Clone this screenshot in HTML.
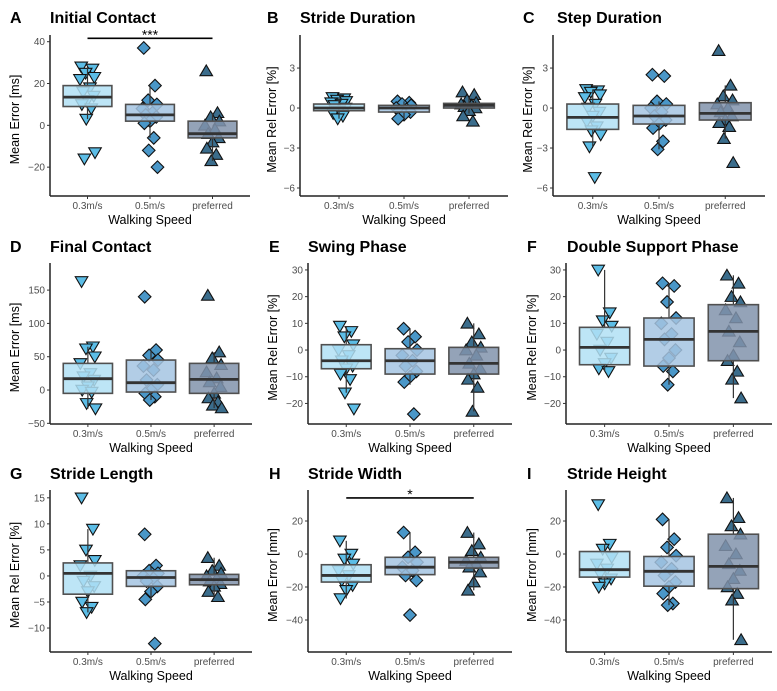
<!DOCTYPE html>
<html><head><meta charset="utf-8"><style>
body{margin:0;background:#fff}
svg{display:block;font-family:"Liberation Sans",sans-serif}
</style></head><body>
<svg id="fig" width="777" height="691" viewBox="0 0 777 691"></svg>
<script>
const categories=["0.3m/s","0.5m/s","preferred"];
// panel A
const aV03=[28,27,25,23,22,18,16,14,12,10,8,3,-13,-16];
const aV05=[37,19,12,10,8,6,5,4,2,1,-6,-12,-20];
const aVpr=[26,6,4,2,0,-2,-4,-6,-8,-11,-14,-17];
const aBox=[[3,9,13.5,19,28],[-6,2,5,10,19],[-17,-6,-4,2,6]];
const aTicks=[-20,0,20,40];
// panel B
const bV03=[0.8,0.7,0.6,0.5,0.4,0.3,0.2,0,-0.2,-0.4,-0.6,-0.8];
const bV05=[0.5,0.4,0.3,0.2,0,-0.1,-0.2,-0.3,-0.5,-0.8];
const bVpr=[1.2,1.0,0.6,0.4,0.3,0.2,0.1,0,-0.2,-0.6,-1.0];
const bBox=[[-0.8,-0.2,0,0.3,0.8],[-0.8,-0.3,0,0.2,0.5],[-0.4,0,0.2,0.35,0.8]];
const bTicks=[-6,-3,0,3];
// panel C
const cV03=[1.4,1.3,1.2,1.0,0.8,0.3,0,-0.3,-0.6,-1,-1.4,-1.7,-2.0,-2.9,-5.2];
const cV05=[2.5,2.4,0.5,0.3,0,-0.3,-0.6,-0.9,-1.2,-1.5,-2.5,-3.1];
const cVpr=[4.3,1.7,0.9,0.6,0.3,0,-0.3,-0.6,-0.9,-1.1,-1.4,-2.3,-4.1];
const cBox=[[-2.9,-1.6,-0.7,0.3,1.4],[-3.1,-1.2,-0.6,0.2,0.5],[-2.3,-0.9,-0.4,0.4,1.7]];
const cTicks=[-6,-3,0,3];
// panel D
const dV03=[163,65,62,50,40,25,20,15,5,0,-3,-20,-28];
const dV05=[140,60,52,45,36,30,15,8,0,-5,-10,-15];
const dVpr=[142,57,48,38,27,18,12,5,-5,-12,-18,-23,-27];
const dBox=[[-28,-5,17,40,65],[-15,-3,11,45,60],[-27,-5,16,40,57]];
const dTicks=[-50,0,50,100,150];
// panel E
const eV03=[9,7,5,2,0,-2,-4,-6,-7,-9,-11,-16,-22];
const eV05=[8,5,3,0,-2,-4,-6,-8,-10,-12,-24];
const eVpr=[10,6,3,1,0,-2,-5,-7,-9,-11,-14,-23];
const eBox=[[-16,-7,-4,2,9],[-13,-9,-4,0.5,8],[-23,-9,-5,1,10]];
const eTicks=[-20,-10,0,10,20,30];
// panel F
const fV03=[30,14,11,9,6,3,0,-3,-5,-7,-8];
const fV05=[25,24,18,12,10,6,4,0,-3,-6,-8,-13];
const fVpr=[28,25,20,18,15,12,7,3,-2,-4,-8,-11,-18];
const fBox=[[-8,-5.5,1,8.5,30],[-13,-6,4,12,25],[-18,-4,7,17,28]];
const fTicks=[-20,-10,0,10,20,30];
// panel G
const gV03=[15,9,5,3,2,0,-1,-2,-3,-5,-6,-7];
const gV05=[8,2,1,0.5,0,-0.5,-1,-2,-3,-4.5,-13];
const gVpr=[3.5,2,1,0.5,0,-0.5,-1,-1.5,-2,-3,-4];
const gBox=[[-7,-3.5,0.5,2.5,9],[-4.5,-2,-0.3,1,2],[-4,-1.7,-0.7,0.3,3.5]];
const gTicks=[-10,-5,0,5,10,15];
// panel H
const hV03=[8,0,-3,-6,-10,-13,-16,-19,-22,-27];
const hV05=[13,1,-2,-5,-8,-10,-13,-16,-37];
const hVpr=[13,6,2,-2,-4,-6,-8,-11,-17,-22];
const hBox=[[-27,-17,-13,-6.5,8],[-16,-12.5,-8,-2,13],[-22,-8.5,-5,-2,13]];
const hTicks=[-40,-20,0,20];
// panel I
const iV03=[30,6,3,-2,-6,-9,-12,-15,-18,-20];
const iV05=[21,9,4,-1,-5,-9,-13,-17,-20,-24,-30,-31];
const iVpr=[34,22,17,12,5,0,-6,-10,-15,-20,-24,-28,-52];
const iBox=[[-20,-14,-9.5,1.5,6],[-31,-19.5,-10.5,-1.5,21],[-52,-21,-7.5,12,34]];
const iTicks=[-40,-20,0,20];

const NS="http://www.w3.org/2000/svg";
const svg=document.getElementById("fig");
function mk(tag,attrs,parent,text){const e=document.createElementNS(NS,tag);for(const k in attrs)e.setAttribute(k,attrs[k]);if(text!==undefined)e.textContent=text;(parent||svg).appendChild(e);return e;}
const ptCol=["#5cbde6","#4a97c8","#3b6d8c"];
const boxCol=["#b2e0f4","#a4c4e2","#8193ab"];
const jit=[-0.1,0.08,-0.03,0.11,-0.12,0.04,-0.07,0.1,0.0,-0.09,0.06,-0.02,0.12,-0.05,0.03];
const panels=[
 {L:"A",t:"Initial Contact",yl:"Mean Error [ms]",x0:50,x1:250,top:35,bot:196,lo:-33.8,hi:43.2,v:[aV03,aV05,aVpr],b:aBox,tk:aTicks,lx:10,tx:50,ty:23,ax:15,sig:[41.6,"***"]},
 {L:"B",t:"Stride Duration",yl:"Mean Rel Error [%]",x0:300,x1:508,top:35,bot:196,lo:-6.6,hi:5.48,v:[bV03,bV05,bVpr],b:bBox,tk:bTicks,lx:267,tx:300,ty:23,ax:272},
 {L:"C",t:"Step Duration",yl:"Mean Rel Error [%]",x0:553,x1:765,top:35,bot:196,lo:-6.6,hi:5.48,v:[cV03,cV05,cVpr],b:cBox,tk:cTicks,lx:523,tx:557,ty:23,ax:528},
 {L:"D",t:"Final Contact",yl:"Mean Error [ms]",x0:50,x1:252,top:263,bot:424,lo:-51,hi:190.7,v:[dV03,dV05,dVpr],b:dBox,tk:dTicks,lx:10,tx:50,ty:252,ax:15},
 {L:"E",t:"Swing Phase",yl:"Mean Rel Error [%]",x0:308,x1:512,top:263,bot:424,lo:-27.7,hi:32.6,v:[eV03,eV05,eVpr],b:eBox,tk:eTicks,lx:269,tx:308,ty:252,ax:273},
 {L:"F",t:"Double Support Phase",yl:"Mean Rel Error [%]",x0:566,x1:772,top:263,bot:424,lo:-27.7,hi:32.6,v:[fV03,fV05,fVpr],b:fBox,tk:fTicks,lx:527,tx:567,ty:252,ax:532},
 {L:"G",t:"Stride Length",yl:"Mean Rel Error [%]",x0:50,x1:252,top:490,bot:652,lo:-14.6,hi:16.5,v:[gV03,gV05,gVpr],b:gBox,tk:gTicks,lx:10,tx:50,ty:479,ax:15},
 {L:"H",t:"Stride Width",yl:"Mean Error [mm]",x0:308,x1:512,top:490,bot:652,lo:-59.4,hi:38.8,v:[hV03,hV05,hVpr],b:hBox,tk:hTicks,lx:269,tx:308,ty:479,ax:273,sig:[34,"*"]},
 {L:"I",t:"Stride Height",yl:"Mean Error [mm]",x0:566,x1:772,top:490,bot:652,lo:-59.4,hi:38.8,v:[iV03,iV05,iVpr],b:iBox,tk:iTicks,lx:527,tx:567,ty:479,ax:532}
];
function shape(kind,cx,cy,g,col){
  const s=6.3;let p;
  if(kind===0)p=[[cx-s,cy-s*0.75],[cx+s,cy-s*0.75],[cx,cy+s*0.95]];
  else if(kind===1)p=[[cx,cy-s],[cx+s,cy],[cx,cy+s],[cx-s,cy]];
  else p=[[cx-s,cy+s*0.75],[cx+s,cy+s*0.75],[cx,cy-s*0.95]];
  return mk("polygon",{points:p.map(q=>q.join(",")).join(" "),fill:col,stroke:"#111","stroke-width":1.1},g);
}
panels.forEach((P,pi)=>{
  const g=mk("g",{});
  
  
  const unit=(P.x1-P.x0)/3.2;
  const xs=i=>P.x0+unit*(0.6+i);
  const ys=v=>P.bot-(v-P.lo)/(P.hi-P.lo)*(P.bot-P.top);
  const lt=mk("text",{x:P.lx,y:P.ty,"font-size":16,"font-weight":"bold",fill:"#000"},g,P.L);
  
  
  const tt=mk("text",{x:P.tx,y:P.ty,"font-size":16,"font-weight":"bold",fill:"#000"},g,P.t);
  
  
  P.v.forEach((vals,ci)=>{
    vals.forEach((v,k)=>{
      const pt=shape(ci,xs(ci)+jit[k%jit.length]*unit,ys(v),g,ptCol[ci]);
      
      
    });
  });
  P.b.forEach((b,ci)=>{
    const cx=xs(ci),hw=unit*0.39;
    const w1=mk("line",{x1:cx,x2:cx,y1:ys(b[0]),y2:ys(b[1]),stroke:"#333","stroke-width":1.2},g);
    
    
    const w2=mk("line",{x1:cx,x2:cx,y1:ys(b[3]),y2:ys(b[4]),stroke:"#333","stroke-width":1.2},g);
    
    
    const r=mk("rect",{x:cx-hw,y:ys(b[3]),width:hw*2,height:ys(b[1])-ys(b[3]),fill:boxCol[ci],"fill-opacity":0.85,stroke:"#505050","stroke-width":1.6},g);
    
    
    const m=mk("line",{x1:cx-hw,x2:cx+hw,y1:ys(b[2]),y2:ys(b[2]),stroke:"#333","stroke-width":2.8},g);
    
    
  });
  const ya=mk("line",{x1:P.x0,x2:P.x0,y1:P.top,y2:P.bot,stroke:"#222","stroke-width":1.5},g);
  
  
  const xa=mk("line",{x1:P.x0,x2:P.x1,y1:P.bot,y2:P.bot,stroke:"#222","stroke-width":1.5},g);
  
  
  P.tk.forEach(t=>{
    mk("line",{x1:P.x0-3,x2:P.x0,y1:ys(t),y2:ys(t),stroke:"#333","stroke-width":1},g);
    const tl=mk("text",{x:P.x0-5,y:ys(t)+3.5,"font-size":10,fill:"#4d4d4d","text-anchor":"end"},g,t<0?"\u2212"+(-t):String(t));
    
    
  });
  categories.forEach((c,ci)=>{
    mk("line",{x1:xs(ci),x2:xs(ci),y1:P.bot,y2:P.bot+3,stroke:"#333","stroke-width":1},g);
    const cl=mk("text",{x:xs(ci),y:P.bot+13,"font-size":10,fill:"#4d4d4d","text-anchor":"middle"},g,c);
    
    
  });
  const xt=mk("text",{x:(P.x0+P.x1)/2,y:P.bot+28,"font-size":12.5,fill:"#000","text-anchor":"middle"},g,"Walking Speed");
  
  
  const cy=(P.top+P.bot)/2;
  const yt=mk("text",{x:P.ax,y:cy,"font-size":12.5,fill:"#000","text-anchor":"middle",transform:"rotate(-90 "+(P.ax+4)+" "+cy+")"},g,P.yl);
  
  
  if(P.sig){
    const sy=ys(P.sig[0]);
    const sl=mk("line",{x1:xs(0),x2:xs(2),y1:sy,y2:sy,stroke:"#000","stroke-width":1.6},g);
    
    
    const st=mk("text",{x:xs(1),y:sy+1,"font-size":14,fill:"#000","text-anchor":"middle"},g,P.sig[1]);
    
    
  }
});
</script>
</body></html>
